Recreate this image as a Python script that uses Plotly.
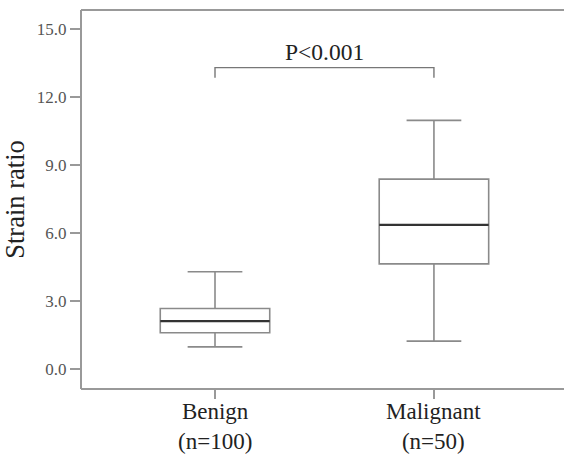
import plotly.graph_objects as go

categories = ["Benign<br>(n=100)", "Malignant<br>(n=50)"]
positions = [0, 1]
lower_whisker = [0.98, 1.23]
q1 = [1.60, 4.64]
median = [2.11, 6.36]
q3 = [2.67, 8.38]
upper_whisker = [4.29, 10.97]
y_ticks = [0, 3, 6, 9, 12, 15]
y_tick_labels = ["0.0", "3.0", "6.0", "9.0", "12.0", "15.0"]
bracket_top = 13.3
bracket_bottom = 12.85
p_text = "P<0.001"

FONT = "Liberation Serif, Times New Roman, serif"
LINE = "#8a8a8a"
FRAME = "#999999"

fig = go.Figure()
fig.add_trace(go.Box(
    x=positions, q1=q1, median=median, q3=q3,
    lowerfence=lower_whisker, upperfence=upper_whisker,
    width=0.5, whiskerwidth=0.5,
    fillcolor="white", line=dict(color=LINE, width=1.6),
    boxpoints=False, hoverinfo="skip", showlegend=False,
))
half = 0.25
for p, m in zip(positions, median):
    fig.add_trace(go.Scatter(
        x=[p - half, p + half], y=[m, m], mode="lines",
        line=dict(color="#333333", width=2.2), showlegend=False, hoverinfo="skip",
    ))
fig.add_trace(go.Scatter(
    x=[positions[0], positions[0], positions[1], positions[1]],
    y=[bracket_bottom, bracket_top, bracket_top, bracket_bottom],
    mode="lines", line=dict(color="#777777", width=1.4),
    showlegend=False, hoverinfo="skip",
))
fig.add_annotation(
    x=(positions[0] + positions[1]) / 2, y=bracket_top, text=p_text,
    showarrow=False, yanchor="bottom", yshift=1,
    font=dict(family=FONT, size=23.5, color="#222222"),
)
for p, c in zip(positions, categories):
    fig.add_annotation(
        x=p, xref="x", y=0, yref="paper", text=c, showarrow=False,
        yanchor="top", yshift=-8,
        font=dict(family=FONT, size=23, color="#222222"),
    )
# frame: left, top, bottom (no right-hand border in the reference)
for x0, x1, y0, y1 in [(0, 0, 0, 1), (0, 1, 1, 1), (0, 1, 0, 0)]:
    fig.add_shape(type="line", xref="paper", yref="paper", x0=x0, x1=x1, y0=y0, y1=y1,
                  line=dict(color=FRAME, width=2))

fig.update_layout(
    width=564, height=455,
    margin=dict(l=81, r=0, t=10, b=66),
    paper_bgcolor="white", plot_bgcolor="white",
    font=dict(family=FONT),
    xaxis=dict(
        range=[-0.612, 1.594], tickmode="array", tickvals=positions, ticktext=["", ""],
        showline=False, ticks="outside", ticklen=9, tickcolor=FRAME, tickwidth=1.5,
        showgrid=False, zeroline=False, automargin=False,
    ),
    yaxis=dict(
        range=[-0.88, 15.84], tickmode="array", tickvals=y_ticks, ticktext=y_tick_labels,
        showline=False, ticks="outside", ticklen=10, tickcolor=FRAME, tickwidth=1.5,
        showgrid=False, zeroline=False, automargin=False,
        tickfont=dict(family=FONT, size=17, color="#555555"),
        title=dict(text="Strain ratio", font=dict(family=FONT, size=26.5, color="#222222"), standoff=8),
    ),
)

fig.write_html(
    "out.html",
    config={"displayModeBar": False, "staticPlot": True},
    post_script="document.body.style.margin='0';document.body.style.overflow='hidden';",
)
